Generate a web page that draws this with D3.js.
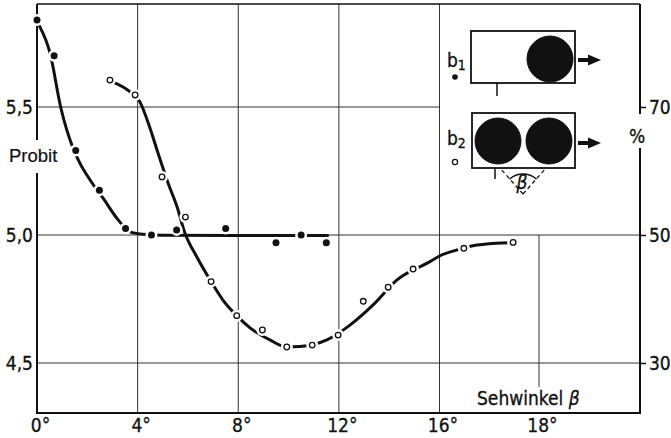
<!DOCTYPE html>
<html lang="de">
<head>
<meta charset="UTF-8">
<title>Probit – Sehwinkel</title>
<script src="https://d3js.org/d3.v7.min.js"></script>
<style>
  body { margin: 0; background: #fff; }
  svg { display: block; }
  .num { font-family: "DejaVu Sans Condensed", "DejaVu Sans", sans-serif; font-size: 19px; fill: #111; stroke: #111; stroke-width: 0.3px; }
  .lbl { font-family: "Liberation Sans", Arial, sans-serif; font-size: 18.5px; fill: #111; stroke: #111; stroke-width: 0.2px; }
</style>
</head>
<body>
<svg id="chart" width="671" height="438"></svg>
<script>
// ticks
const xTicks = [0, 4, 8, 12, 16, 18];
const yTicks = [4.5, 5.0, 5.5];
const pctTicks = [30, 50, 70];

// b1: filled dots (Sehwinkel in deg, Probit)
const b1Points = [
  [0, 5.84], [0.68, 5.70], [1.54, 5.33], [2.48, 5.175], [3.52, 5.025], [4.55, 5.0],
  [5.55, 5.02], [7.5, 5.025], [9.5, 4.97], [10.5, 5.0], [11.5, 4.97]
];
// b1: drawn curve
const b1Curve = [
  [0.08, 5.82], [0.52, 5.71], [0.94, 5.50], [1.43, 5.34], [1.71, 5.28], [2.11, 5.215],
  [2.62, 5.145], [3.22, 5.06], [3.70, 5.012], [4.21, 5.003], [5, 4.999], [8, 4.998], [11.55, 4.998]
];

// b2: open circles
const b2Points = [
  [2.9, 5.605], [3.9, 5.547], [4.97, 5.227], [5.9, 5.07], [6.92, 4.818], [7.94, 4.685],
  [8.96, 4.629], [9.93, 4.5625], [10.94, 4.57], [11.97, 4.609], [12.97, 4.741],
  [13.96, 4.796], [14.95, 4.867], [16.49, 4.948], [17.48, 4.971]
];
// b2: drawn curve
const b2Curve = [
  [2.95, 5.60], [3.70, 5.559], [4.09, 5.52], [4.49, 5.418], [4.81, 5.32], [5.21, 5.203],
  [5.57, 5.109], [5.88, 5.008], [6.35, 4.915], [6.92, 4.818], [7.39, 4.746], [7.94, 4.685],
  [8.47, 4.637], [9.26, 4.59], [9.93, 4.5625], [10.45, 4.564], [11.52, 4.59], [12.44, 4.648],
  [13.36, 4.727], [14.30, 4.824], [15.62, 4.896], [16.01, 4.919], [16.34, 4.941],
  [16.67, 4.958], [17.14, 4.968], [17.41, 4.970]
];

const svg = d3.select("#chart");
const pLeft = 37, pRight = 640, pTop = 4, pBottom = 413;
const ink = "#111";

// x axis is not uniform: 16° -> 18° spans as much as a 4° step
const x = d3.scaleLinear().domain([0, 16, 18]).range([37, 439.5, 539]);
const y = d3.scaleLinear().domain([4.5, 5.5]).range([363, 107]);
const yPct = d3.scaleLinear().domain([30, 70]).range([363, 107]);

// grid
const grid = svg.append("g").attr("stroke", "#333").attr("stroke-width", 1);
[4, 8, 12, 16].forEach(v => {
  grid.append("line").attr("x1", x(v)).attr("x2", x(v)).attr("y1", pTop).attr("y2", pBottom);
});
grid.append("line").attr("x1", x(18)).attr("x2", x(18)).attr("y1", y(5.0)).attr("y2", 387);
grid.append("line").attr("x1", pLeft).attr("x2", x(16)).attr("y1", y(5.5)).attr("y2", y(5.5));
[4.5, 5.0].forEach(v => {
  grid.append("line").attr("x1", pLeft).attr("x2", pRight).attr("y1", y(v)).attr("y2", y(v));
});

// frame
const frame = svg.append("g").attr("stroke", ink).attr("stroke-width", 2);
frame.append("line").attr("x1", pLeft).attr("x2", pRight).attr("y1", pTop).attr("y2", pTop).attr("stroke-width", 1.5);
frame.append("line").attr("x1", pLeft - 1).attr("x2", pRight + 1).attr("y1", pBottom).attr("y2", pBottom);
frame.append("line").attr("x1", pLeft).attr("x2", pLeft).attr("y1", pTop).attr("y2", 140);
frame.append("line").attr("x1", pLeft).attr("x2", pLeft).attr("y1", 173).attr("y2", pBottom);
frame.append("line").attr("x1", pRight).attr("x2", pRight).attr("y1", pTop).attr("y2", 114);
frame.append("line").attr("x1", pRight).attr("x2", pRight).attr("y1", 148).attr("y2", pBottom);

// axes (labels only)
svg.append("g")
  .attr("transform", `translate(0,${pBottom})`)
  .call(d3.axisBottom(x).tickValues(xTicks).tickSize(0).tickPadding(6).tickFormat(d => d + "°"))
  .call(g => g.select(".domain").remove())
  .call(g => g.attr("font-size", null).attr("font-family", null))
  .selectAll("text").attr("class", "num").attr("dx", 3);

svg.append("g")
  .attr("transform", `translate(${pLeft},0)`)
  .call(d3.axisLeft(y).tickValues(yTicks).tickSize(0).tickPadding(4)
    .tickFormat(d => d3.format(".1f")(d).replace(".", ",")))
  .call(g => g.select(".domain").remove())
  .call(g => g.attr("font-size", null).attr("font-family", null))
  .selectAll("text").attr("class", "num");

const rAxis = svg.append("g")
  .attr("transform", `translate(${pRight},0)`)
  .call(d3.axisRight(yPct).tickValues(pctTicks).tickSize(6).tickPadding(3))
  .call(g => g.select(".domain").remove())
  .call(g => g.attr("font-size", null).attr("font-family", null));
rAxis.selectAll("line").attr("stroke", ink).attr("stroke-width", 1.5);
rAxis.selectAll("text").attr("class", "num");

// axis titles
svg.append("text").attr("class", "lbl").attr("x", 9).attr("y", 162).text("Probit");
svg.append("text").attr("class", "num").attr("x", 637).attr("y", 143)
  .attr("text-anchor", "middle").text("%");
const st = svg.append("text").attr("class", "num").attr("x", 477).attr("y", 405).attr("font-size", 19.5);
st.append("tspan").text("Sehwinkel ");
st.append("tspan").attr("font-style", "italic").text("β");

// curves
const line = d3.line().x(d => x(d[0])).y(d => y(d[1])).curve(d3.curveMonotoneX);
[b1Curve, b2Curve].forEach(c => {
  svg.append("path").attr("d", line(c)).attr("fill", "none")
    .attr("stroke", ink).attr("stroke-width", 3).attr("stroke-linecap", "round");
});

// white gaps around the points, then the points
svg.append("g").selectAll("circle").data(b1Points.concat(b2Points)).join("circle")
  .attr("cx", d => x(d[0])).attr("cy", d => y(d[1])).attr("r", 6).attr("fill", "#fff");
svg.append("g").selectAll("circle").data(b1Points).join("circle")
  .attr("cx", d => x(d[0])).attr("cy", d => y(d[1])).attr("r", 3.5).attr("fill", ink);
svg.append("g").selectAll("circle").data(b2Points).join("circle")
  .attr("cx", d => x(d[0])).attr("cy", d => y(d[1])).attr("r", 2.8)
  .attr("fill", "#fff").attr("stroke", ink).attr("stroke-width", 1.3);

// inset sketch (b1 / b2 arrangement)
const ins = svg.append("g").attr("stroke", ink).attr("fill", "none");
ins.append("rect").attr("x", 471).attr("y", 31).attr("width", 104).attr("height", 52).attr("stroke-width", 1.8);
ins.append("rect").attr("x", 472).attr("y", 113).attr("width", 103).attr("height", 55).attr("stroke-width", 1.8);
ins.append("circle").attr("cx", 550).attr("cy", 59).attr("r", 23).attr("fill", ink);
ins.append("circle").attr("cx", 498).attr("cy", 141).attr("r", 23).attr("fill", ink);
ins.append("circle").attr("cx", 549).attr("cy", 141).attr("r", 23).attr("fill", ink);
ins.append("line").attr("x1", 497).attr("x2", 497).attr("y1", 83).attr("y2", 96).attr("stroke-width", 1.5);
ins.append("line").attr("x1", 495).attr("x2", 495).attr("y1", 168).attr("y2", 179).attr("stroke-width", 1.5);
[60, 143].forEach(ay => {
  ins.append("line").attr("x1", 578).attr("x2", 590).attr("y1", ay).attr("y2", ay).attr("stroke-width", 4);
  ins.append("path").attr("d", `M588,${ay - 5.5}L601,${ay}L588,${ay + 5.5}Z`).attr("fill", ink).attr("stroke", "none");
});
const apex = [523, 194];
ins.append("path").attr("d", `M${apex[0]},${apex[1]}L500,168M${apex[0]},${apex[1]}L546,168`)
  .attr("stroke-width", 1.2).attr("stroke-dasharray", "4,3");
ins.append("path").attr("d", d3.arc()({ innerRadius: 20, outerRadius: 20, startAngle: -0.74, endAngle: 0.74 }))
  .attr("transform", `translate(${apex[0]},${apex[1]})`).attr("stroke-width", 1.3);
svg.append("text").attr("class", "num").attr("x", 522).attr("y", 189).attr("font-size", 15)
  .attr("text-anchor", "middle").attr("font-style", "italic").text("β");

// legend letters
const b1 = svg.append("text").attr("class", "num").attr("x", 447).attr("y", 67).attr("font-size", 20);
b1.append("tspan").text("b");
b1.append("tspan").attr("font-size", 14).attr("dy", 3).text("1");
const b2 = svg.append("text").attr("class", "num").attr("x", 447).attr("y", 145).attr("font-size", 20);
b2.append("tspan").text("b");
b2.append("tspan").attr("font-size", 14).attr("dy", 3).text("2");
svg.append("circle").attr("cx", 455).attr("cy", 77).attr("r", 2.8).attr("fill", ink);
svg.append("circle").attr("cx", 455).attr("cy", 162).attr("r", 2.6).attr("fill", "#fff")
  .attr("stroke", ink).attr("stroke-width", 1.2);
</script>
</body>
</html>
